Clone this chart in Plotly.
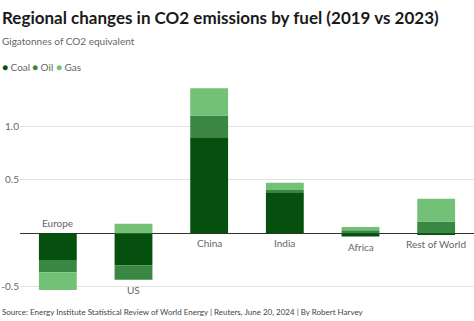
import plotly.graph_objects as go

W, H = 474, 321

categories = ["Europe", "US", "China", "India", "Africa", "Rest of World"]
coal = [-0.25, -0.30, 0.90, 0.385, -0.03, -0.01]
oil = [-0.115, -0.135, 0.205, 0.02, 0.03, 0.11]
gas = [-0.165, 0.09, 0.255, 0.07, 0.03, 0.215]

series = [("Coal", coal, "#05500f"), ("Oil", oil, "#3a8743"), ("Gas", gas, "#72c177")]

y_ticks = [-0.5, 0, 0.5, 1.0]
y_ticktext = ["-0.5", "", "0.5", "1.0"]

FONT = "Lato"

fig = go.Figure()
for name, vals, col in series:
    fig.add_trace(go.Bar(x=categories, y=vals, name=name, marker_color=col,
                         marker_line_width=0, width=0.5, showlegend=False))

# plot area in px
PL, PR, PT, PB = 20, 474, 80, 295
fig.update_layout(
    width=W, height=H, margin=dict(l=0, r=0, t=0, b=0),
    paper_bgcolor="white", plot_bgcolor="white",
    barmode="relative", bargap=0.5,
    font=dict(family=FONT, color="#666"),
    xaxis=dict(domain=[PL / W, PR / W], showticklabels=False, showgrid=False,
               zeroline=False, showline=False, ticks=""),
    yaxis=dict(domain=[1 - PB / H, 1 - PT / H], range=[-0.578, 1.437],
               tickvals=y_ticks, ticktext=y_ticktext, showgrid=True,
               gridcolor="#e3e3e3", gridwidth=1, zeroline=True,
               zerolinecolor="#333", zerolinewidth=1, ticks="",
               tickfont=dict(size=10, color="#666"), showline=False),
)

anns = []
def px(x):
    return x / W
def py(y):
    return 1 - y / H

anns.append(dict(x=px(0), y=py(17), xref="paper", yref="paper", xanchor="left", yanchor="middle",
                 text="<b>Regional changes in CO2 emissions by fuel (2019 vs 2023)</b>",
                 showarrow=False, font=dict(size=17, color="#1a1a1a", family=FONT)))
anns.append(dict(x=px(0), y=py(41), xref="paper", yref="paper", xanchor="left", yanchor="middle",
                 text="Gigatonnes of CO2 equivalent", showarrow=False,
                 font=dict(size=10, color="#666", family=FONT)))
legend_x = [0, 30, 54]
for (name, vals, col), lx in zip(series, legend_x):
    anns.append(dict(x=px(lx), y=py(67), xref="paper", yref="paper", xanchor="left", yanchor="middle",
                     text=f"<span style='color:{col}'>●</span> {name}", showarrow=False,
                     font=dict(size=10, color="#666", family=FONT)))
anns.append(dict(x=px(0), y=py(312), xref="paper", yref="paper", xanchor="left", yanchor="middle",
                 text="Source: Energy Institute Statistical Review of World Energy | Reuters, June 20, 2024 | By Robert Harvey",
                 showarrow=False, font=dict(size=8, color="#444", family=FONT)))

for i, c in enumerate(categories):
    pos = sum(v[i] for _, v, _ in series if v[i] > 0)
    neg = sum(v[i] for _, v, _ in series if v[i] < 0)
    if pos == 0:
        anns.append(dict(x=c, y=0, xref="x", yref="y", yanchor="bottom", yshift=2,
                         text=c, showarrow=False, font=dict(size=10, color="#666")))
    else:
        anns.append(dict(x=c, y=neg, xref="x", yref="y", yanchor="top", yshift=-2,
                         text=c, showarrow=False, font=dict(size=10, color="#666")))

fig.update_layout(annotations=anns)
fig.write_html("out.html")
